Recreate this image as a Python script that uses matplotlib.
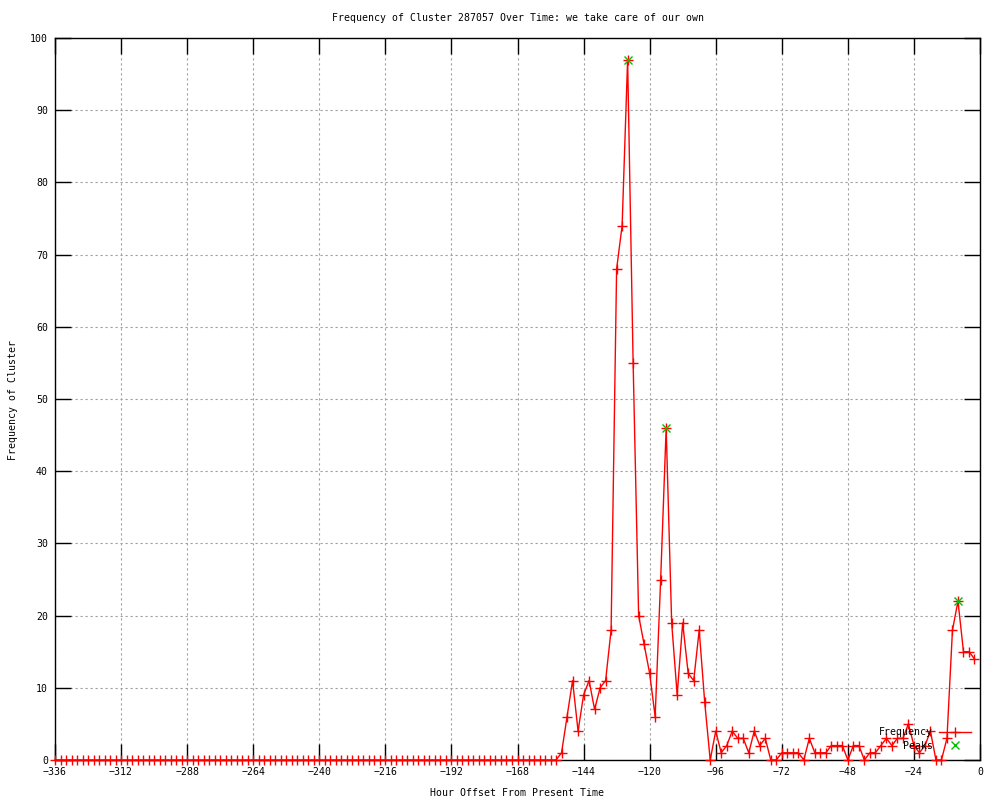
import matplotlib
matplotlib.use("Agg")
import matplotlib.pyplot as plt

title = "Frequency of Cluster 287057 Over Time: we take care of our own"
xlabel = "Hour Offset From Present Time"
ylabel = "Frequency of Cluster"

hours = list(range(-336, 0, 2))
frequency = [
    0, 0, 0, 0, 0, 0, 0, 0, 0, 0, 0, 0, 0, 0, 0, 0, 0, 0, 0, 0,
    0, 0, 0, 0, 0, 0, 0, 0, 0, 0, 0, 0, 0, 0, 0, 0, 0, 0, 0, 0,
    0, 0, 0, 0, 0, 0, 0, 0, 0, 0, 0, 0, 0, 0, 0, 0, 0, 0, 0, 0,
    0, 0, 0, 0, 0, 0, 0, 0, 0, 0, 0, 0, 0, 0, 0, 0, 0, 0, 0, 0,
    0, 0, 0, 0, 0, 0, 0, 0, 0, 0, 0, 0,
    1, 6, 11, 4, 9, 11, 7, 10, 11, 18,
    68, 74, 97, 55, 20, 16, 12, 6, 25, 46,
    19, 9, 19, 12, 11, 18, 8, 0, 4, 1,
    2, 4, 3, 3, 1, 4, 2, 3, 0, 0,
    1, 1, 1, 1, 0, 3, 1, 1, 1, 2,
    2, 2, 0, 2, 2, 0, 1, 1, 2, 3,
    2, 3, 3, 5, 2, 1, 2, 4, 0, 0,
    3, 18, 22, 15, 15, 14,
]
peak_hours = [-128, -114, -8]
peak_values = [97, 46, 22]

xticks = list(range(-336, 1, 24))
yticks = list(range(0, 101, 10))

FONT = "DejaVu Sans Mono"
FS = 7.1

fig = plt.figure(figsize=(10, 8), dpi=100)
ax = fig.add_axes([0.055, 0.05, 0.925, 0.9025])

ax.plot(hours, frequency, color="#ff0000", linewidth=1.0, marker="+",
        markersize=7, markeredgewidth=1.0, label="Frequency",
        clip_on=False, zorder=4)
ax.plot(peak_hours, peak_values, linestyle="none", color="#00c000",
        marker="x", markersize=6, markeredgewidth=1.0, label="Peaks",
        clip_on=False, zorder=5)

ax.set_xlim(-336, 0)
ax.set_ylim(0, 100)
ax.set_xticks(xticks)
ax.set_yticks(yticks)
ax.set_xticklabels([str(t).replace("-", "\u2212") if t < 0 else str(t) for t in xticks],
                   family=FONT, fontsize=FS)
ax.set_yticklabels([str(t) for t in yticks], family=FONT, fontsize=FS)

ax.tick_params(direction="in", length=11.5, width=1.0, color="black",
               top=True, right=True, pad=5)
ax.grid(True, color="#a0a0a0", linestyle=(0, (2, 2.5)), linewidth=0.8)
ax.set_axisbelow(True)
for s in ax.spines.values():
    s.set_linewidth(1.0)
    s.set_color("black")

fig.text(0.5175, 0.977, title, ha="center", va="center", family=FONT, fontsize=FS)
fig.text(0.5175, 0.009, xlabel, ha="center", va="center", family=FONT, fontsize=FS)
fig.text(0.013, 0.5, ylabel, ha="center", va="center", rotation=90,
         family=FONT, fontsize=FS)

leg = ax.legend(loc="lower right", bbox_to_anchor=(0.978, 0.053),
                bbox_transform=fig.transFigure, frameon=False,
                markerfirst=False, handlelength=3.3, handletextpad=0.6,
                labelspacing=0.35, borderpad=0.2,
                prop={"family": FONT, "size": FS})

fig.savefig("out.png", dpi=100)
